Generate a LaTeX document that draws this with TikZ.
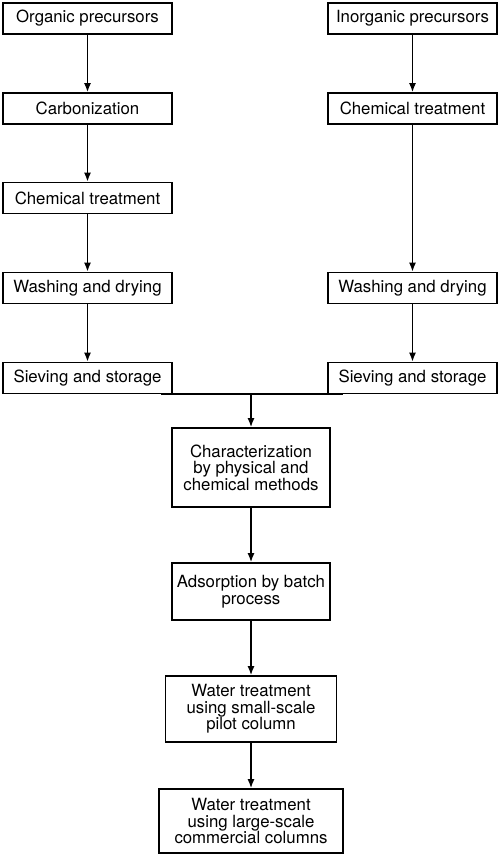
\documentclass[tikz,border=0pt]{standalone}
\usepackage{fontspec}
\setmainfont{TeX Gyre Heros}
\usetikzlibrary{arrows.meta}

\tikzset{
  box/.style={draw, line width=1.6pt, inner sep=0pt, align=center,
    font=\fontsize{16.8}{16.5}\selectfont},
  sidebox/.style={box, minimum width=169pt, minimum height=31pt},
  flow/.style={-{Latex[length=9pt,width=7pt]}, line width=1.6pt},
}

\begin{document}
\begin{tikzpicture}[x=1pt, y=-1pt]

\useasboundingbox (0,0) rectangle (500,857);

% Organic route
\node[sidebox] (org)   at (87.5,18.5) {Organic precursors};
\node[sidebox] (carb)  at (87.5,108.5) {Carbonization};
\node[sidebox] (chemL) at (87.5,198) {Chemical treatment};
\node[sidebox] (washL) at (87.5,288) {Washing and drying};
\node[sidebox] (sievL) at (87.5,378) {Sieving and storage};

% Inorganic route
\node[sidebox] (inorg) at (412.5,18.5) {Inorganic precursors};
\node[sidebox] (chemR) at (412.5,108.5) {Chemical treatment};
\node[sidebox] (washR) at (412.5,288) {Washing and drying};
\node[sidebox] (sievR) at (412.5,378) {Sieving and storage};

% Common steps
\node[box, minimum width=158pt, minimum height=79pt] (charac) at (251,467.5)
  {Characterization\\by physical and\\chemical methods};
\node[box, minimum width=158pt, minimum height=57pt] (batch) at (251,591.5)
  {Adsorption by batch\\process};
\node[box, minimum width=171pt, minimum height=66pt] (pilot) at (251,709)
  {Water treatment\\using small-scale\\pilot column};
\node[box, minimum width=184pt, minimum height=64pt] (large) at (251,821)
  {Water treatment\\using large-scale\\commercial columns};

% Arrows
\draw[flow] (org) -- (carb);
\draw[flow] (carb) -- (chemL);
\draw[flow] (chemL) -- (washL);
\draw[flow] (washL) -- (sievL);

\draw[flow] (inorg) -- (chemR);
\draw[flow] (chemR) -- (washR);
\draw[flow] (washR) -- (sievR);

% Joining line
\coordinate (joinL) at (161,394);
\coordinate (joinR) at (343,394);
\coordinate (joinM) at (charac.north |- joinL);
\draw[line width=1.6pt] (joinL) -- (joinR);
\draw[flow] (joinM) -- (charac.north);

\draw[flow] (charac) -- (batch);
\draw[flow] (batch) -- (pilot);
\draw[flow] (pilot) -- (large);

\end{tikzpicture}
\end{document}
